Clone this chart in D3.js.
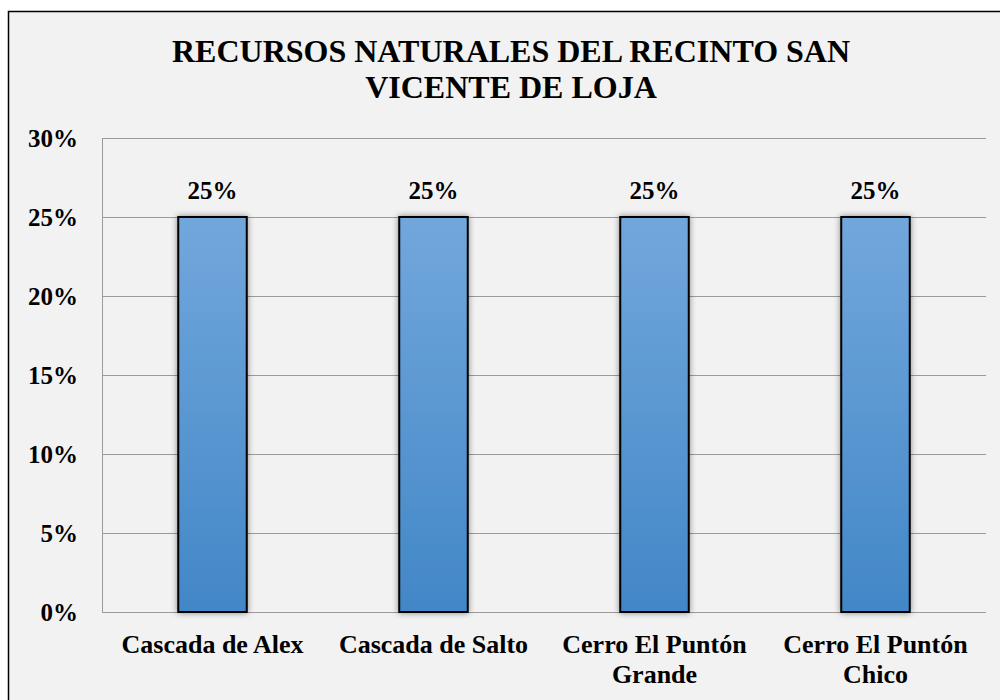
<!DOCTYPE html>
<html>
<head>
<meta charset="utf-8">
<script src="https://cdn.jsdelivr.net/npm/d3@7"></script>
<style>
  body { margin: 0; background: #fff; }
  text { font-family: "Liberation Serif", "Times New Roman", "DejaVu Serif", serif; font-weight: bold; fill: #000; }
</style>
</head>
<body>
<svg width="1000" height="700"></svg>
<script>
const categories = [["Cascada de Alex"], ["Cascada de Salto"], ["Cerro El Puntón", "Grande"], ["Cerro El Puntón", "Chico"]]
const values = [0.25, 0.25, 0.25, 0.25]
const yTicks = [0, 0.05, 0.10, 0.15, 0.20, 0.25, 0.30]
const titleLines = ["RECURSOS NATURALES DEL RECINTO SAN", "VICENTE DE LOJA"]

const svg = d3.select("svg")
const plotLeft = 102, plotRight = 986, plotTop = 138, plotBottom = 612

// chart frame (runs off the right and bottom edges)
svg.append("rect")
  .attr("x", 8.5).attr("y", 11.5)
  .attr("width", 1000).attr("height", 700)
  .style("fill", "#f2f2f2")
  .style("stroke", "#000")
  .style("stroke-width", 1.5)

const defs = svg.append("defs")
const grad = defs.append("linearGradient")
  .attr("id", "barGrad").attr("x1", 0).attr("y1", 0).attr("x2", 0).attr("y2", 1)
grad.append("stop").attr("offset", "0%").attr("stop-color", "#72a7dc")
grad.append("stop").attr("offset", "100%").attr("stop-color", "#4287c7")

const shadow = defs.append("filter").attr("id", "shadow")
  .attr("x", "-30%").attr("y", "-10%").attr("width", "160%").attr("height", "120%")
shadow.append("feDropShadow")
  .attr("dx", 0).attr("dy", 0).attr("stdDeviation", 3)
  .attr("flood-color", "#000").attr("flood-opacity", 0.45)

const x = d3.scaleBand()
  .domain(d3.range(categories.length))
  .range([plotLeft, plotRight])
  .paddingInner(0.69)
  .paddingOuter(0.345)

const y = d3.scaleLinear()
  .domain([0, 0.30])
  .range([plotBottom, plotTop])

// gridlines
svg.append("g")
  .selectAll("line")
  .data(yTicks)
  .enter()
  .append("line")
  .attr("x1", plotLeft).attr("x2", plotRight)
  .attr("y1", d => Math.round(y(d)) + 0.5)
  .attr("y2", d => Math.round(y(d)) + 0.5)
  .style("stroke", "#9a9a9a")
  .style("stroke-width", 1)

// left boundary of plot
svg.append("line")
  .attr("x1", plotLeft + 0.5).attr("x2", plotLeft + 0.5)
  .attr("y1", plotTop).attr("y2", plotBottom)
  .style("stroke", "#9a9a9a")

// y tick labels
svg.append("g")
  .selectAll("text")
  .data(yTicks)
  .enter()
  .append("text")
  .attr("x", 78)
  .attr("y", d => y(d))
  .attr("dy", "0.34em")
  .attr("text-anchor", "end")
  .style("font-size", "25px")
  .text(d => d3.format(".0%")(d))

// bars
svg.append("g")
  .selectAll("rect")
  .data(values)
  .enter()
  .append("rect")
  .attr("x", (d, i) => x(i))
  .attr("y", d => y(d))
  .attr("width", x.bandwidth())
  .attr("height", d => y(0) - y(d))
  .style("fill", "url(#barGrad)")
  .style("stroke", "#000")
  .style("stroke-width", 2)
  .style("filter", "url(#shadow)")

// value labels
svg.append("g")
  .selectAll("text")
  .data(values)
  .enter()
  .append("text")
  .attr("x", (d, i) => x(i) + x.bandwidth() / 2)
  .attr("y", d => y(d) - 18)
  .attr("text-anchor", "middle")
  .style("font-size", "25px")
  .text(d => d3.format(".0%")(d))

// category labels
const catG = svg.append("g")
  .selectAll("text")
  .data(categories)
  .enter()
  .append("text")
  .attr("x", (d, i) => x(i) + x.bandwidth() / 2)
  .attr("y", 653)
  .attr("text-anchor", "middle")
  .style("font-size", "26px")
catG.selectAll("tspan")
  .data(d => d)
  .enter()
  .append("tspan")
  .attr("x", function() { return d3.select(this.parentNode).attr("x") })
  .attr("dy", (d, i) => i === 0 ? 0 : 30)
  .text(d => d)

// title
svg.append("text")
  .attr("x", 511)
  .attr("y", 62)
  .attr("text-anchor", "middle")
  .style("font-size", "32px")
  .selectAll("tspan")
  .data(titleLines)
  .enter()
  .append("tspan")
  .attr("x", 511)
  .attr("dy", (d, i) => i === 0 ? 0 : 36)
  .text(d => d)
</script>
</body>
</html>
